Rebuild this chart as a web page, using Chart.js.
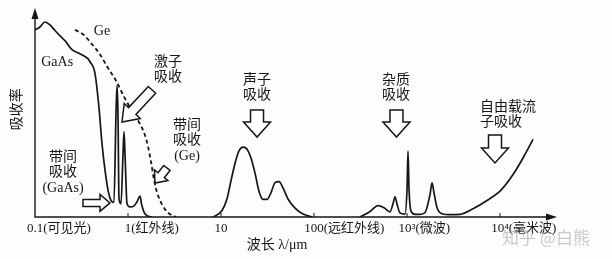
<!DOCTYPE html>
<html>
<head>
<meta charset="utf-8">
<script src="https://cdn.jsdelivr.net/npm/chart.js@4.4.1/dist/chart.umd.min.js"></script>
<style>
  html, body { margin: 0; padding: 0; background: #fdfdfb; }
</style>
</head>
<body>
<canvas id="absChart" width="612" height="259"></canvas>
<script>
// wavelength in um, absorption in arbitrary units (0 - 100)
const gaasWave = [0.1, 0.113, 0.128, 0.145, 0.164, 0.186, 0.21, 0.25, 0.29, 0.33, 0.37, 0.39, 0.441, 0.488, 0.525, 0.566, 0.61, 0.656, 0.706, 0.743, 0.762, 0.78, 0.8, 0.841, 0.883, 0.906, 0.929, 0.976, 1.05, 1.16, 1.25, 1.346, 1.397, 1.486, 1.64, 1.81];
const gaasAbs = [90.3, 91.8, 94.2, 92.8, 90.1, 87.5, 85.2, 80.8, 79.3, 78.0, 76.5, 75.0, 69.5, 52.6, 35.6, 22.6, 12.9, 8.0, 7.0, 50.0, 63.5, 50.0, 8.9, 6.4, 30.0, 41.2, 30.0, 6.4, 4.9, 5.4, 7.3, 10.1, 6.3, 2.4, 0.4, 0];

const geWave = [0.269, 0.328, 0.41, 0.5, 0.609, 0.743, 0.906, 1.104, 1.346, 1.52, 1.64, 1.77, 1.9, 2.05, 2.32, 2.69, 3.28];
const geAbs = [90.4, 88.3, 83.5, 78.5, 72.0, 65.9, 58.1, 51.3, 44.9, 39.6, 34.2, 26.5, 18.2, 11.9, 6.1, 2.1, 0];

const phononWave = [8.2, 10.25, 11.6, 12.8, 14.2, 15.6, 17.3, 19.0, 21.0, 23.2, 25.6, 28.3, 31.3, 34.5, 38.1, 42.1, 46.4, 52.5, 62.5, 76.2, 95];
const phononAbs = [0, 3.1, 8.8, 17.5, 26.2, 31.9, 33.8, 32.8, 28.5, 21.2, 12.4, 8.5, 8.5, 11.8, 16.6, 17.1, 14.1, 8.7, 4.3, 1.4, 0];

// impurity peaks + free carrier tail
const farWave = [312, 400, 488, 566, 656, 707, 743, 780, 841, 951, 1000, 1025, 1051, 1104, 1219, 1380, 1563, 1767, 1858, 1950, 2104, 2377, 2897, 3715, 5130, 7244, 10250, 13800, 17670, 22650];
const farAbs = [0, 2.7, 5.5, 4.5, 2.5, 6.4, 9.7, 6.3, 1.9, 1.4, 13.4, 31.8, 13.4, 2.8, 1.3, 1.3, 2.2, 10.8, 16.5, 11.7, 4.5, 1.6, 1.1, 1.3, 4.0, 8.0, 13.0, 20.5, 28.5, 37.5];

const tickValues = [0.1, 1, 10, 100, 1000, 10000];
const tickNums = ['0.1', '1', '10', '100', '10³', '10⁴'];
const tickNotes = ['(可见光)', '(红外线)', '', '(远红外线)', '(微波)', '(毫米波)'];

const ink = '#161616';
const font = "'Liberation Serif', 'Noto Sans CJK SC', serif";

function pairs(xs, ys) {
    return xs.map((x, i) => ({ x: x, y: ys[i] }));
}

function blockArrow(ctx, x1, y1, x2, y2, shaftW, headW, headL) {
    const len = Math.hypot(x2 - x1, y2 - y1);
    const ang = Math.atan2(y2 - y1, x2 - x1);
    ctx.save();
    ctx.translate(x1, y1);
    ctx.rotate(ang);
    ctx.beginPath();
    ctx.moveTo(0, -shaftW / 2);
    ctx.lineTo(len - headL, -shaftW / 2);
    ctx.lineTo(len - headL, -headW / 2);
    ctx.lineTo(len, 0);
    ctx.lineTo(len - headL, headW / 2);
    ctx.lineTo(len - headL, shaftW / 2);
    ctx.lineTo(0, shaftW / 2);
    ctx.closePath();
    ctx.fillStyle = '#fff';
    ctx.fill();
    ctx.lineWidth = 1.5;
    ctx.strokeStyle = ink;
    ctx.stroke();
    ctx.restore();
}

// annotations in data coordinates (wavelength, absorption)
const notes = [
    { lines: ['Ge'], w: 0.525, a: 89.9, align: 'center' },
    { lines: ['GaAs'], w: 0.173, a: 74.9, align: 'center' },
    { lines: ['激子', '吸收'], w: 2.69, a: 74.9, align: 'center' },
    { lines: ['带间', '吸收', '(Ge)'], w: 4.31, a: 44.4, align: 'center' },
    { lines: ['带间', '吸收', '(GaAs)'], w: 0.2, a: 29.0, align: 'center' },
    { lines: ['声子', '吸收'], w: 24.4, a: 66.2, align: 'center' },
    { lines: ['杂质', '吸收'], w: 762, a: 66.2, align: 'center' },
    { lines: ['自由载流', '子吸收'], w: 6095, a: 53.1, align: 'left' }
];

const arrows = [
    { from: [1.81, 61.4], to: [0.862, 45.9], shaft: 10, head: 22, headL: 15 },
    { from: [2.62, 23.7], to: [1.95, 16.4], shaft: 8, head: 17, headL: 10 },
    { from: [0.328, 6.8], to: [0.64, 6.8], shaft: 7, head: 17, headL: 10 },
    { from: [24.4, 51.7], to: [24.4, 38.6], shaft: 13, head: 27, headL: 15 },
    { from: [770, 51.7], to: [770, 38.6], shaft: 13, head: 27, headL: 15 },
    { from: [8830, 39.6], to: [8830, 26.1], shaft: 13, head: 27, headL: 15 }
];

const figurePlugin = {
    id: 'figure',
    beforeDraw(chart) {
        const ctx = chart.ctx;
        ctx.save();
        ctx.fillStyle = '#fdfdfb';
        ctx.fillRect(0, 0, chart.width, chart.height);
        ctx.restore();
    },
    afterDraw(chart) {
        const ctx = chart.ctx;
        const xs = chart.scales.x;
        const ys = chart.scales.y;
        const area = chart.chartArea;
        const X = v => xs.getPixelForValue(v);
        const Y = v => ys.getPixelForValue(v);
        ctx.save();

        // axes with arrow heads
        ctx.strokeStyle = ink;
        ctx.fillStyle = ink;
        ctx.lineWidth = 1.4;
        ctx.beginPath();
        ctx.moveTo(area.left, area.top + 4);
        ctx.lineTo(area.left, area.bottom);
        ctx.lineTo(area.right - 4, area.bottom);
        ctx.stroke();
        ctx.beginPath();
        ctx.moveTo(area.left, area.top - 2);
        ctx.lineTo(area.left - 3.5, area.top + 9);
        ctx.lineTo(area.left + 3.5, area.top + 9);
        ctx.closePath();
        ctx.fill();
        ctx.beginPath();
        ctx.moveTo(area.right + 2, area.bottom);
        ctx.lineTo(area.right - 9, area.bottom - 3.5);
        ctx.lineTo(area.right - 9, area.bottom + 3.5);
        ctx.closePath();
        ctx.fill();

        // tick marks and labels
        ctx.lineWidth = 1;
        ctx.font = '13px ' + font;
        ctx.textBaseline = 'middle';
        ctx.textAlign = 'left';
        tickValues.forEach((v, i) => {
            const px = X(v);
            if (i > 0) {
                ctx.beginPath();
                ctx.moveTo(px, area.bottom);
                ctx.lineTo(px, area.bottom - 4);
                ctx.stroke();
            }
            const numW = ctx.measureText(tickNums[i]).width;
            ctx.fillText(tickNums[i] + tickNotes[i], px - numW / 2, area.bottom + 12);
        });

        // axis titles
        ctx.font = '14px ' + font;
        ctx.textAlign = 'center';
        ctx.fillText('波长 λ/μm', X(40), area.bottom + 28);
        ctx.save();
        ctx.translate(17, Y(52));
        ctx.rotate(-Math.PI / 2);
        ctx.fillText('吸收率', 0, 0);
        ctx.restore();

        // annotation text
        ctx.font = '14px ' + font;
        notes.forEach(n => {
            ctx.textAlign = n.align;
            n.lines.forEach((t, j) => {
                ctx.fillText(t, X(n.w), Y(n.a) + j * 15.5);
            });
        });

        arrows.forEach(a => {
            blockArrow(ctx, X(a.from[0]), Y(a.from[1]), X(a.to[0]), Y(a.to[1]), a.shaft, a.head, a.headL);
        });

        // watermark
        ctx.font = "17px 'Noto Sans CJK SC', sans-serif";
        ctx.fillStyle = 'rgba(150,150,150,0.5)';
        ctx.textAlign = 'left';
        ctx.fillText('知乎 @白熊', 502, area.bottom + 21);
        ctx.restore();
    }
};

const lineStyle = {
    borderColor: ink,
    borderWidth: 1.7,
    pointRadius: 0,
    fill: false,
    cubicInterpolationMode: 'monotone'
};

new Chart(document.getElementById('absChart'), {
    type: 'line',
    data: {
        datasets: [
            Object.assign({ label: 'GaAs', data: pairs(gaasWave, gaasAbs) }, lineStyle),
            Object.assign({ label: 'Ge', data: pairs(geWave, geAbs), borderDash: [4, 3] }, lineStyle, { borderWidth: 1.8 }),
            Object.assign({ label: '声子吸收', data: pairs(phononWave, phononAbs) }, lineStyle),
            Object.assign({ label: '杂质/自由载流子吸收', data: pairs(farWave, farAbs) }, lineStyle)
        ]
    },
    options: {
        responsive: false,
        animation: false,
        devicePixelRatio: 1,
        layout: { padding: { left: 35, top: 10, right: 57, bottom: 42 } },
        scales: {
            x: { type: 'logarithmic', min: 0.1, max: 39000, display: false },
            y: { min: 0, max: 100, display: false }
        },
        plugins: {
            legend: { display: false },
            tooltip: { enabled: false }
        }
    },
    plugins: [figurePlugin]
});
</script>
</body>
</html>
